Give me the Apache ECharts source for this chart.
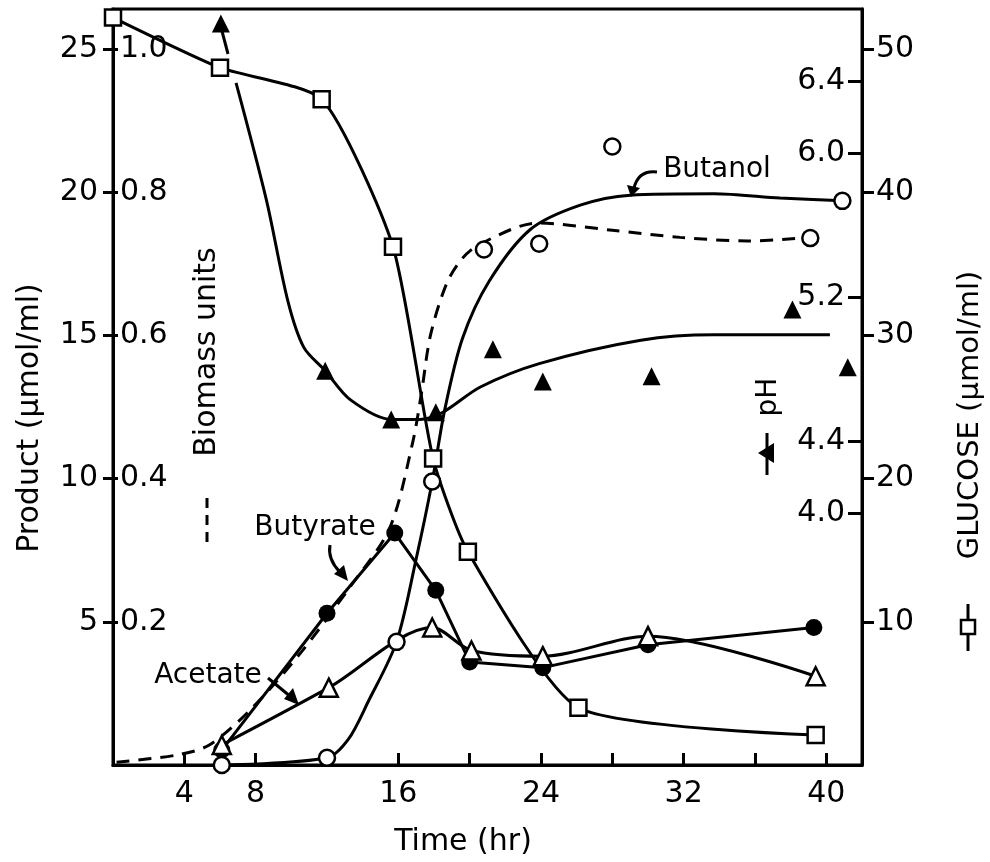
<!DOCTYPE html>
<html>
<head>
<meta charset="utf-8">
<title>Product, biomass, glucose and pH vs time</title>
<script src="https://cdn.jsdelivr.net/npm/echarts@6/dist/echarts.min.js"></script>
<style>
  html, body { margin: 0; padding: 0; background: #fff; }
  #chart { width: 990px; height: 862px; }
</style>
</head>
<body>
<div id="chart"></div>
<script>
// [time (hr), value] pairs
var glucose = [[0, 52.2], [6.0, 48.7], [11.7, 46.5], [15.7, 36.2], [17.95, 21.4], [19.9, 14.9], [26.1, 4.0], [39.4, 2.1]];
var phPoints = [[6.05, 6.72], [11.9, 4.79], [15.6, 4.52], [18.1, 4.56], [21.3, 4.91], [24.1, 4.73], [30.2, 4.76], [38.1, 5.13], [41.2, 4.81]];
var phCurve = [[6.9, 6.39], [8.6, 5.74], [9.8, 5.18], [10.7, 4.92], [11.9, 4.79], [13.3, 4.63], [15.6, 4.52], [17.2, 4.52], [18.5, 4.56], [20.6, 4.70], [23.9, 4.83], [29.6, 4.96], [33.7, 4.99], [40.2, 4.99]];
var phArrow = [[6.45, 6.55], [6.05, 6.70]];
var butanolPoints = [[6.1, 0], [12.0, 0.25], [15.9, 4.3], [17.9, 9.9], [20.8, 18.0], [23.9, 18.2], [28.0, 21.6], [39.1, 18.4], [40.9, 19.7]];
var butanolCurve = [[6.1, 0], [12.0, 0.25], [13.2, 0.9], [14.3, 2.2], [15.9, 4.3], [17.0, 7.2], [17.9, 9.9], [18.6, 12.4], [19.6, 14.9], [21.1, 16.9], [23.4, 18.7], [26.2, 19.55], [29.0, 19.9], [33.7, 19.95], [37.4, 19.8], [40.9, 19.7]];
var biomass = [[0.2, 0.004], [3.6, 0.014], [5.4, 0.028], [7.7, 0.077], [10.5, 0.156], [13.3, 0.249], [15.5, 0.33], [16.8, 0.45], [17.3, 0.52], [17.8, 0.60], [18.7, 0.672], [19.6, 0.708], [20.6, 0.728], [23.8, 0.757], [28.0, 0.747], [31.8, 0.737], [35.6, 0.732], [39.1, 0.737]];
var butyrate = [[6.1, 0.52], [12.0, 5.3], [15.8, 8.1], [18.1, 6.1], [20.0, 3.6], [24.1, 3.4], [30.0, 4.2], [39.3, 4.8]];
var acetate = [[6.1, 0.7], [12.1, 2.7], [17.9, 4.8], [20.1, 4.0], [24.1, 3.8], [30.0, 4.5], [39.4, 3.1]];

var timeLabels = [4, 8, 16, 24, 32, 40];
var timeTicks = [4, 8, 12, 16, 20, 24, 28, 32, 36, 40];
var productTicks = [5, 10, 15, 20, 25];
var biomassTicks = [0.2, 0.4, 0.6, 0.8, 1.0];
var glucoseTicks = [10, 20, 30, 40, 50];
var phTicks = [4.0, 4.4, 5.2, 6.0, 6.4];

var FONT = "DejaVu Sans";
var ink = "#000";
var line3 = { color: ink, width: 3 };
var openMark = { color: "#fff", borderColor: ink, borderWidth: 2.5, opacity: 1 };
var solidMark = { color: ink, opacity: 1 };

function label(vals, extra) {
  var o = { customValues: vals, color: ink, fontFamily: FONT, fontSize: 30 };
  for (var k in extra) o[k] = extra[k];
  return o;
}

function txt(s, x, y, size, rot) {
  return {
    type: "text", x: x, y: y, rotation: rot || 0,
    style: { text: s, fontFamily: FONT, fontSize: size, fill: ink, textAlign: "center", textVerticalAlign: "middle" }
  };
}

var chart = echarts.init(document.getElementById("chart"));

chart.setOption({
  animation: false,
  backgroundColor: "#fff",
  grid: { left: 113, right: 128, top: 9, bottom: 97, show: true, borderColor: ink, borderWidth: 3 },
  xAxis: {
    type: "value", min: 0, max: 42,
    axisLine: { lineStyle: line3 },
    axisTick: { customValues: timeTicks, inside: true, length: 12, lineStyle: line3 },
    axisLabel: label(timeLabels, { margin: 14 }),
    splitLine: { show: false }
  },
  yAxis: [
    { // product
      type: "value", position: "left", min: 0, max: 26.4,
      axisLine: { show: true, lineStyle: line3 },
      axisTick: { customValues: productTicks, length: 10, lineStyle: line3 },
      axisLabel: label(productTicks, { margin: 15 }),
      splitLine: { show: false }
    },
    { // biomass
      type: "value", position: "left", min: 0, max: 1.056,
      axisLine: { show: false },
      axisTick: { customValues: biomassTicks, inside: true, length: 5, lineStyle: line3 },
      axisLabel: label(biomassTicks, { inside: true, margin: 7, formatter: function (v) { return v.toFixed(1); } }),
      splitLine: { show: false }
    },
    { // glucose
      type: "value", position: "right", min: 0, max: 52.8,
      axisLine: { show: true, lineStyle: line3 },
      axisTick: { customValues: glucoseTicks, length: 12, lineStyle: line3 },
      axisLabel: label(glucoseTicks, { margin: 14 }),
      splitLine: { show: false }
    },
    { // pH
      type: "value", position: "right", min: 2.6, max: 6.8,
      axisLine: { show: false },
      axisTick: { customValues: phTicks, inside: true, length: 14, lineStyle: line3 },
      axisLabel: label(phTicks, { inside: true, margin: 17, formatter: function (v) { return v.toFixed(1); } }),
      splitLine: { show: false }
    }
  ],
  series: [
    {
      name: "Biomass", type: "line", yAxisIndex: 1, data: biomass, smooth: 0.3,
      showSymbol: false, lineStyle: { color: ink, width: 3, type: [13, 9] }, z: 2
    },
    {
      name: "pH curve", type: "line", yAxisIndex: 3, data: phCurve, smooth: 0.3,
      showSymbol: false, lineStyle: line3, z: 2
    },
    {
      name: "pH arrow", type: "line", yAxisIndex: 3, data: phArrow,
      showSymbol: false, lineStyle: line3, z: 2
    },
    {
      name: "pH", type: "scatter", yAxisIndex: 3, data: phPoints,
      symbol: "triangle", symbolSize: 18, itemStyle: solidMark, z: 4
    },
    {
      name: "Butanol curve", type: "line", yAxisIndex: 0, data: butanolCurve, smooth: 0.3,
      showSymbol: false, lineStyle: line3, z: 2
    },
    {
      name: "Butanol", type: "scatter", yAxisIndex: 0, data: butanolPoints,
      symbol: "circle", symbolSize: 16, itemStyle: openMark, z: 5
    },
    {
      name: "Glucose", type: "line", yAxisIndex: 2, data: glucose, smooth: 0.2,
      symbol: "rect", symbolSize: 16, lineStyle: line3, itemStyle: openMark, z: 5
    },
    {
      name: "Butyrate", type: "line", yAxisIndex: 0, data: butyrate,
      symbol: "circle", symbolSize: 17, lineStyle: line3, itemStyle: solidMark, z: 4
    },
    {
      name: "Acetate", type: "line", yAxisIndex: 0, data: acetate, smooth: 0.3,
      symbol: "triangle", symbolSize: 18, lineStyle: line3, itemStyle: openMark, z: 5
    }
  ],
  graphic: [
    txt("Time (hr)", 463, 842, 30),
    txt("Product (μmol/ml)", 30, 418, 30, Math.PI / 2),
    txt("Biomass units", 207, 352, 30, Math.PI / 2),
    { type: "line", shape: { x1: 207, y1: 498, x2: 207, y2: 548 }, style: { stroke: ink, lineWidth: 3, lineDash: [10, 7] } },
    txt("pH", 769, 397, 28, Math.PI / 2),
    { type: "line", shape: { x1: 767, y1: 433, x2: 767, y2: 475 }, style: { stroke: ink, lineWidth: 3 } },
    { type: "polygon", shape: { points: [[758, 453], [774, 443], [774, 463]] }, style: { fill: ink } },
    txt("GLUCOSE (μmol/ml)", 970, 415, 29, Math.PI / 2),
    { type: "line", shape: { x1: 968, y1: 604, x2: 968, y2: 651 }, style: { stroke: ink, lineWidth: 3 } },
    { type: "rect", shape: { x: 961, y: 620, width: 14, height: 14 }, style: { fill: "#fff", stroke: ink, lineWidth: 2.5 } },
    // series annotations
    txt("Butanol", 717, 170, 28),
    { type: "bezierCurve", shape: { x1: 657, y1: 172, cpx1: 641, cpy1: 170, cpx2: 636, cpy2: 180, x2: 634, y2: 188 }, style: { stroke: ink, lineWidth: 3, fill: null } },
    { type: "polygon", shape: { points: [[631, 197], [627, 185], [640, 188]] }, style: { fill: ink } },
    txt("Butyrate", 315, 528, 28),
    { type: "bezierCurve", shape: { x1: 330, y1: 545, cpx1: 328, cpy1: 556, cpx2: 333, cpy2: 565, x2: 340, y2: 572 }, style: { stroke: ink, lineWidth: 3, fill: null } },
    { type: "polygon", shape: { points: [[348, 581], [334, 574], [344, 565]] }, style: { fill: ink } },
    txt("Acetate", 208, 676, 28),
    { type: "line", shape: { x1: 268, y1: 678, x2: 291, y2: 697 }, style: { stroke: ink, lineWidth: 3 } },
    { type: "polygon", shape: { points: [[299, 705], [284, 699], [293, 688]] }, style: { fill: ink } }
  ]
});
</script>
</body>
</html>
